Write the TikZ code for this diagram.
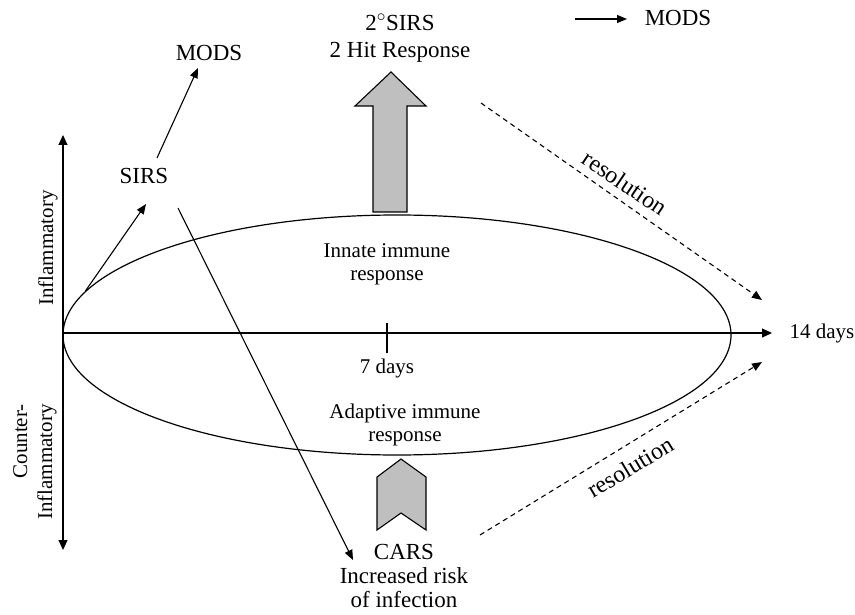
\documentclass[tikz,border=0pt]{standalone}
\usepackage{fontspec}
\setmainfont{Liberation Serif}
\usetikzlibrary{arrows.meta,shapes.geometric}
\begin{document}
\begin{tikzpicture}[x=1pt,y=-1pt,
  big/.style={font=\fontsize{23}{25}\selectfont, align=center, inner sep=0pt},
  small/.style={font=\fontsize{21}{23}\selectfont, align=center, inner sep=0pt},
  reslbl/.style={font=\fontsize{24}{26}\selectfont, inner sep=0pt},
  axisline/.style={line width=1.1pt},
  tip/.style={-{Triangle[length=10pt,width=9pt]}},
  arr/.style={line width=1.1pt, -{Triangle[length=10pt,width=8pt]}},
  dasharr/.style={line width=1.1pt, dash pattern=on 5pt off 4pt, -{Triangle[length=10pt,width=8pt]}},
  block/.style={draw, line width=1.1pt, fill=gray!50, line join=miter}]
\useasboundingbox (0,0) rectangle (855,615);

% immune response envelope
\node[ellipse, draw, line width=1.2pt, minimum width=668pt, minimum height=240pt, inner sep=0pt] (ell) at (397,335) {};

% axes
\coordinate (o) at (63,333);
\coordinate (vtop) at (63,135);
\coordinate (vbot) at (63,550);
\coordinate (hend) at (772,333);
\draw[axisline, {Triangle[length=10pt,width=9pt]}-{Triangle[length=10pt,width=9pt]}] (vtop) -- (vbot);
\draw[axisline, tip] (o) -- (hend);
\coordinate (tk1) at (387,323);
\coordinate (tk2) at (387,353);
\draw[axisline] (tk1) -- (tk2);

% labels
\node[small] (fourteen) at (822,333) {14 days};
\node[small] (seven) at (387,368) {7 days};
\node[small] (innate) at (387,264) {Innate immune\\response};
\node[small] (adaptive) at (405,425) {Adaptive immune\\response};
\node[small, rotate=90] (inflam) at (48,248) {Inflammatory};
\node[small, rotate=90, align=right, font=\fontsize{21}{25}\selectfont] (counter) at (35,462) {Counter-\\Inflammatory};

\node[big] (sirs) at (144,176) {SIRS};
\node[big] (modsa) at (209,53) {MODS};
\node[big, font=\fontsize{23}{27}\selectfont] (sirstwo) at (400,38) {2$^{\circ}$SIRS\\2 Hit Response};
\node[big] (modsb) at (678,18) {MODS};
\node[big, font=\fontsize{23}{24}\selectfont] (cars) at (404,576) {CARS\\Increased risk\\of infection};

\node[reslbl, rotate=-34] (resa) at (625,183) {resolution};
\node[reslbl, rotate=31] (resb) at (630,467) {resolution};

% connectors
\coordinate (sirsin) at (146,204);
\coordinate (sirsout) at (157,158);
\coordinate (modsin) at (198,68);
\coordinate (sirsdown) at (178,208);
\coordinate (carsin) at (353,560);
\draw[arr] (ell.172.8) -- (sirsin);
\draw[arr] (sirsout) -- (modsin);
\draw[arr] (sirsdown) -- (carsin);

\coordinate (mb1) at (575,19);
\coordinate (mb2) at (627,19);
\draw[arr] (mb1) -- (mb2);

\coordinate (ra1) at (481,103);
\coordinate (ra2) at (762,300);
\coordinate (rb1) at (480,535);
\coordinate (rb2) at (762,362);
\draw[dasharr] (ra1) -- (ra2);
\draw[dasharr] (rb1) -- (rb2);

% block arrows
\draw[block] (373,212) -- (373,106) -- (355,106) -- (391,72) -- (426,106) -- (407,106) -- (407,212) -- cycle;
\draw[block] (377,477) -- (401,459) -- (426,477) -- (426,530) -- (401,513) -- (377,530) -- cycle;
\end{tikzpicture}
\end{document}
